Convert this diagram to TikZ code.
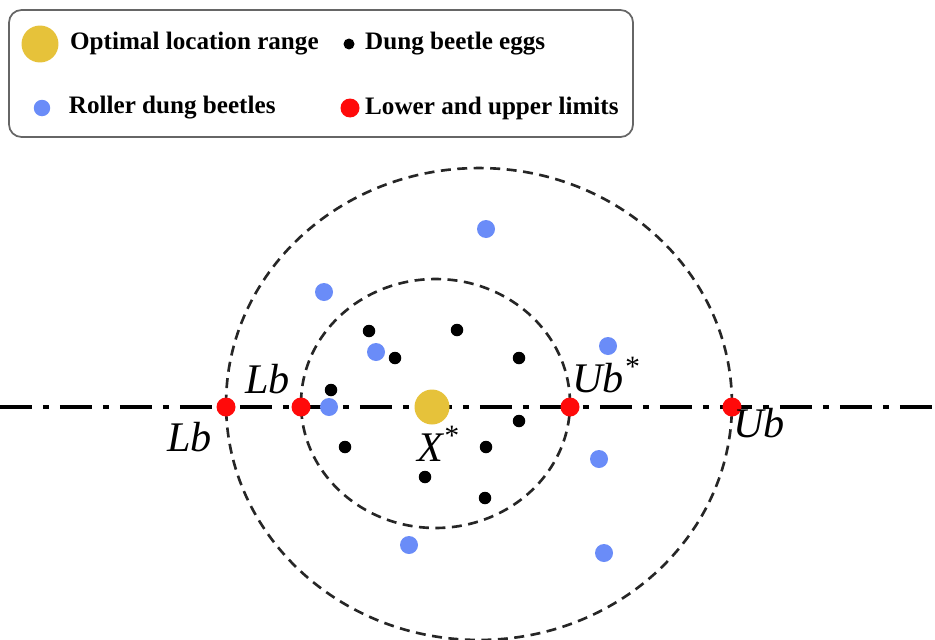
\documentclass[tikz,border=0pt]{standalone}
\usepackage{fontspec}
\setmainfont{Liberation Serif}
\usetikzlibrary{positioning}
\definecolor{optYellow}{HTML}{E6C23A}
\definecolor{rollBlue}{HTML}{6A8CF8}
\definecolor{limRed}{HTML}{FF0A0A}

\begin{document}
\begin{tikzpicture}[
  x=0.02cm, y=-0.02cm,
  bdot/.style={circle,inner sep=0pt,minimum size=#1},
  egg/.style={bdot=0.25cm,fill=black},
  roller/.style={bdot=0.36cm,fill=rollBlue},
  limitdot/.style={bdot=0.38cm,fill=limRed},
  optimum/.style={bdot=0.7cm,fill=optYellow},
  legendtxt/.style={anchor=west,inner sep=0pt,font=\bfseries\fontsize{14.3}{16}\selectfont},
  boundlbl/.style={anchor=base west,inner sep=0pt,font=\itshape\fontsize{24}{28}\selectfont},
  rangeline/.style={draw=black!85,line width=1.5pt,dash pattern=on 0.2cm off 0.13cm},
  axisline/.style={line width=2.6pt,dash pattern=on 0.64cm off 0.22cm on 0.12cm off 0.22cm}
]
\clip (0,0) rectangle (935,639);

% legend
\draw[black!60,line width=1pt,rounded corners=0.25cm] (9,10) rectangle (633,137);
\node[optimum,minimum size=0.74cm] (kOpt) at (40,44) {};
\node[legendtxt,right=0.22cm of kOpt] (tOpt) {Optimal location range};
\node[egg,minimum size=0.22cm] (kEgg) at (349,44) {};
\node[legendtxt,right=0.2cm of kEgg] (tEgg) {Dung beetle eggs};
\node[roller,minimum size=0.33cm] (kRoll) at (42,108) {};
\node[legendtxt,right=0.36cm of kRoll] (tRoll) {Roller dung beetles};
\node[limitdot,minimum size=0.38cm] (kLim) at (350,108) {};
\node[legendtxt,right=0.1cm of kLim] (tLim) {Lower and upper limits};

% search ranges
\coordinate (cOuter) at (479,404);
\coordinate (cInner) at (435.5,403.5);
\draw[rangeline] (cOuter) ellipse[x radius=5.06cm,y radius=4.72cm];
\draw[rangeline] (cInner) ellipse[x radius=2.69cm,y radius=2.49cm];

\coordinate (axisW) at (0,407);
\coordinate (axisE) at (935,407);
\draw[axisline] (axisW) -- (axisE);

% roller dung beetles
\foreach \px/\py [count=\i] in {486/229,324/292,376/352,608/346,329/407,599/459,409/545,604/553}
  \node[roller] (roll\i) at (\px,\py) {};

% eggs
\foreach \px/\py [count=\i] in {369/331,457/330,395/358,519/358,331/390,519/421,345/447,486/447,425/477,485/498}
  \node[egg] (egg\i) at (\px,\py) {};

% limits and optimum
\node[limitdot] (lbOuter) at (226,407) {};
\node[limitdot] (lbInner) at (301,407) {};
\node[limitdot] (ubInner) at (570,407) {};
\node[limitdot] (ubOuter) at (732,407) {};
\node[optimum] (xStar) at (432,407) {};

\node[boundlbl] (lLbIn) at (245,393) {Lb};
\node[boundlbl] (lLbOut) at (167,451) {Lb};
\node[boundlbl] (lUbIn) at (572,392) {Ub\textsuperscript{*}};
\node[boundlbl] (lUbOut) at (733,437) {Ub};
\node[boundlbl] (lX) at (417,461) {X\textsuperscript{*}};
\end{tikzpicture}
\end{document}
